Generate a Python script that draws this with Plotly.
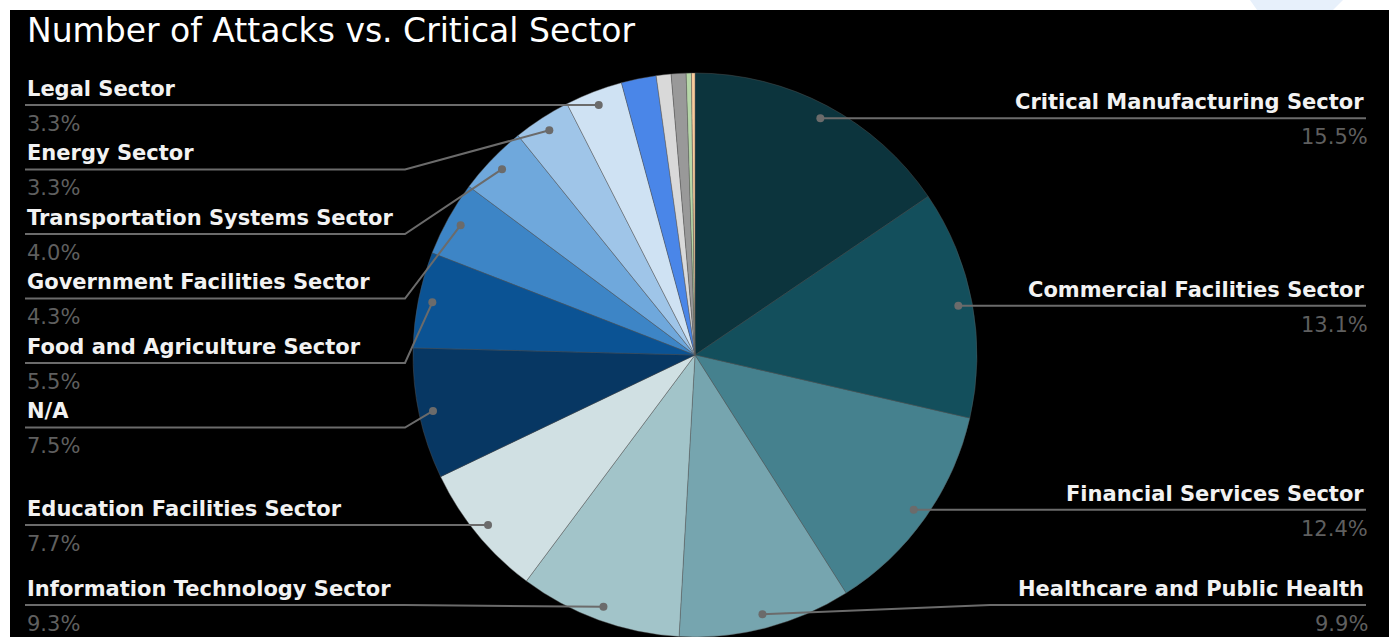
import math
import plotly.graph_objects as go

# ---------------- data ----------------
sectors = [
    "Critical Manufacturing Sector", "Commercial Facilities Sector", "Financial Services Sector",
    "Healthcare and Public Health", "Information Technology Sector", "Education Facilities Sector",
    "N/A", "Food and Agriculture Sector", "Government Facilities Sector",
    "Transportation Systems Sector", "Energy Sector", "Legal Sector",
    "Communications Sector", "Chemical Sector", "Emergency Services Sector",
    "Water and Wastewater Systems Sector", "Defense Industrial Base Sector",
]
shares = [15.5, 13.1, 12.4, 9.9, 9.3, 7.7, 7.5, 5.5, 4.3, 4.0, 3.3, 3.3, 2.0, 0.85, 0.85, 0.3, 0.2]
colors = [
    "#0c343d", "#134f5c", "#45818e", "#76a5af", "#a2c4c9", "#d0e0e3",
    "#073763", "#0b5394", "#3d85c6", "#6fa8dc", "#9fc5e8", "#cfe2f3",
    "#4a86e8", "#d9d9d9", "#999999", "#b6d7a8", "#f9cb9c",
]
title_text = "Number of Attacks vs. Critical Sector"

# ---------------- layout constants (pixels) ----------------
W, H = 1389, 637
CX, CY, R = 695, 355, 282
DOT_R = 0.95 * R
LABEL_MIN = 3.0          # slices below this share get no label
GAP = 64.5
TOP_LIM, BOT_LIM = 103, 605
LEFT_X, LEFT_ELBOW = 25, 405
RIGHT_X, RIGHT_ELBOW = 1366, 990
LINE_COL = "#6b6b6b"


def fx(x):
    return x / W


def fy(y):
    return 1 - y / H


total = sum(shares)

fig = go.Figure(go.Pie(
    labels=sectors, values=shares, sort=False, direction="clockwise", rotation=0,
    marker=dict(colors=colors, line=dict(color="rgba(90,90,90,0.7)", width=0.6)),
    textinfo="none", hoverinfo="label+percent", showlegend=False,
    domain=dict(x=[(CX - R) / W, (CX + R) / W], y=[(H - CY - R) / H, (H - CY + R) / H]),
))

# compute label anchor points from the slice angles
items = []
cum = 0.0
for name, v in zip(sectors, shares):
    mid = (cum + v / 2) / total * 2 * math.pi
    cum += v
    if v < LABEL_MIN:
        continue
    dx = CX + DOT_R * math.sin(mid)
    dy = CY - DOT_R * math.cos(mid)
    side = "right" if mid < math.pi else "left"
    items.append(dict(name=name, val=v, dx=dx, dy=dy, side=side))

for side in ("left", "right"):
    grp = sorted([it for it in items if it["side"] == side], key=lambda it: it["dy"])
    prev = None
    for it in grp:
        y = max(it["dy"], TOP_LIM)
        if prev is not None:
            y = max(y, prev + GAP)
        it["uy"] = y
        prev = y
    nxt = None
    for it in reversed(grp):
        y = min(it["uy"], BOT_LIM)
        if nxt is not None:
            y = min(y, nxt - GAP)
        it["uy"] = y
        nxt = y

shapes = [
    dict(type="rect", xref="paper", yref="paper", x0=fx(10), x1=1, y0=0, y1=fy(10),
         fillcolor="#000000", line=dict(width=0), layer="below"),
    dict(type="path", xref="paper", yref="paper",
         path=f"M {fx(1250)},{fy(0)} L {fx(1343)},{fy(0)} L {fx(1333)},{fy(10)} L {fx(1257)},{fy(10)} Z",
         fillcolor="#e7f0fb", line=dict(width=0), layer="below"),
]
annotations = [
    dict(text=title_text, x=fx(25), y=fy(31), xref="paper", yref="paper", xanchor="left",
         yanchor="middle", showarrow=False,
         font=dict(family="DejaVu Sans", size=33, color="#ffffff")),
]

for it in items:
    if it["side"] == "left":
        elbow, end, anchor, tx, px_ = LEFT_ELBOW, LEFT_X, "left", LEFT_X, LEFT_X
    else:
        elbow, end, anchor, tx, px_ = RIGHT_ELBOW, RIGHT_X, "right", RIGHT_X, RIGHT_X + 4
    uy = it["uy"]
    path = (f"M {fx(it['dx'])},{fy(it['dy'])} L {fx(elbow)},{fy(uy)} L {fx(end)},{fy(uy)}")
    shapes.append(dict(type="path", xref="paper", yref="paper", path=path,
                       line=dict(color=LINE_COL, width=2)))
    shapes.append(dict(type="circle", xref="paper", yref="paper",
                       x0=fx(it["dx"] - 4), x1=fx(it["dx"] + 4),
                       y0=fy(it["dy"] + 4), y1=fy(it["dy"] - 4),
                       fillcolor=LINE_COL, line=dict(width=0)))
    annotations.append(dict(text=it["name"], x=fx(tx), y=fy(uy - 16), xref="paper", yref="paper",
                            xanchor=anchor, yanchor="middle", showarrow=False,
                            font=dict(family="DejaVu Sans", size=21, color="#f2f2f2", weight="bold")))
    annotations.append(dict(text=f"{it['val'] / total * 100:.1f}%", x=fx(px_), y=fy(uy + 19),
                            xref="paper", yref="paper", xanchor=anchor, yanchor="middle",
                            showarrow=False,
                            font=dict(family="DejaVu Sans", size=21, color="#5f5f5f")))

fig.update_layout(
    width=W, height=H, margin=dict(l=0, r=0, t=0, b=0),
    paper_bgcolor="#ffffff", plot_bgcolor="#000000",
    shapes=shapes, annotations=annotations,
)

fig.write_html(
    "out.html",
    config={"displayModeBar": False},
    post_script="document.body.style.margin='0px';document.body.style.overflow='hidden';",
)
